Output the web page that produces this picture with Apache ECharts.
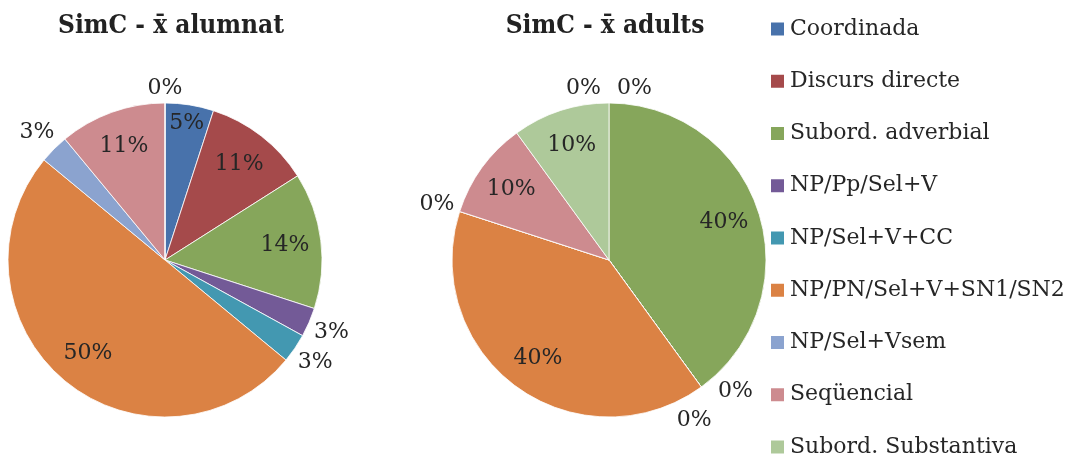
<!DOCTYPE html>
<html>
<head>
<meta charset="utf-8">
<script src="https://cdn.jsdelivr.net/npm/echarts@6/dist/echarts.min.js"></script>
<style>
  html, body { margin: 0; padding: 0; background: #fff; }
  #chart { width: 1067px; height: 455px; }
</style>
</head>
<body>
<div id="chart"></div>
<script>
// Sentence-construction categories (shared by both pies and the legend)
const categories = [
  'Coordinada',
  'Discurs directe',
  'Subord. adverbial',
  'NP/Pp/Sel+V',
  'NP/Sel+V+CC',
  'NP/PN/Sel+V+SN1/SN2',
  'NP/Sel+Vsem',
  'Seqüencial',
  'Subord. Substantiva'
];

// Mean share (%) per category
const alumnatPct = [5, 11, 14, 3, 3, 50, 3, 11, 0];
const adultsPct  = [0, 0, 40, 0, 0, 40, 0, 10, 10];

const titles = ['SimC - x\u0304 alumnat', 'SimC - x\u0304 adults'];

const palette = [
  '#4872AB', '#A54A4B', '#86A65B', '#735A97', '#4398B1',
  '#DB8244', '#8BA3CF', '#CD8B8F', '#AEC99A'
];

const FONT = 'DejaVu Serif';
const TITLE_FONT = '"DejaVu Serif Condensed", "DejaVu Serif"';
const TEXT = '#262626';

const pies = [
  { values: alumnatPct, center: [165, 260], r: 157, titleX: 166 },
  { values: adultsPct,  center: [609, 260], r: 157, titleX: 600 }
];

// Mid angle (clockwise from 12 o'clock) and share of every slice
function sliceGeometry(values) {
  const total = values.reduce((a, b) => a + b, 0);
  let cum = 0;
  return values.map(v => {
    const a0 = cum / total * 2 * Math.PI;
    cum += v;
    const a1 = cum / total * 2 * Math.PI;
    return { mid: (a0 + a1) / 2, share: v / total };
  });
}

// Best-fit style placement: big slices get their label inside,
// thin ones outside; labels landing on the same angle are spread sideways.
function placeLabel(pie, geo, i, rect) {
  const [cx, cy] = pie.center;
  const r = pie.r;
  const g = geo[i];
  const sx = Math.sin(g.mid), sy = -Math.cos(g.mid);
  const isOutside = s => s.share < 0.04;
  let x, y;
  if (!isOutside(g)) {
    const f = g.share < 0.08 ? 0.88 : 0.77;
    x = cx + sx * r * f;
    y = cy + sy * r * f;
  } else {
    const d = r + 4 + Math.abs(sx) * rect.width / 2 + Math.abs(sy) * rect.height / 2;
    const group = [];
    geo.forEach((o, j) => {
      if (isOutside(o) && Math.abs(o.mid - g.mid) < 1e-6) group.push(j);
    });
    const k = group.indexOf(i), n = group.length;
    const t = (k - (n - 1) / 2) * (rect.width + 16);
    x = cx + sx * d + Math.cos(g.mid) * t;
    y = cy + sy * d + Math.sin(g.mid) * t;
  }
  return { x: x, y: y, align: 'center', verticalAlign: 'middle' };
}

const chart = echarts.init(document.getElementById('chart'), null, { renderer: 'canvas' });

const series = pies.map(pie => {
  const geo = sliceGeometry(pie.values);
  return {
    type: 'pie',
    center: pie.center,
    radius: pie.r,
    startAngle: 90,
    clockwise: true,
    avoidLabelOverlap: false,
    animation: false,
    data: categories.map((name, i) => ({ name: name, value: pie.values[i] })),
    itemStyle: { borderColor: '#ffffff', borderWidth: 0.8 },
    label: {
      show: true,
      position: 'outside',
      formatter: p => p.value + '%',
      fontFamily: FONT,
      fontSize: 22,
      color: TEXT
    },
    labelLine: { show: false },
    labelLayout: p => placeLabel(pie, geo, p.dataIndex, p.labelRect),
    emphasis: { disabled: true }
  };
});

chart.setOption({
  color: palette,
  animation: false,
  title: pies.map((pie, i) => ({
    text: titles[i],
    left: pie.titleX,
    top: 8,
    textAlign: 'center',
    textStyle: { fontFamily: TITLE_FONT, fontWeight: 'bold', fontSize: 26, color: '#222222' }
  })),
  legend: {
    orient: 'vertical',
    left: 764,
    top: 11,
    height: 560,
    icon: 'rect',
    itemWidth: 15,
    itemHeight: 15,
    itemGap: 26.25,
    selectedMode: false,
    data: categories,
    textStyle: { fontFamily: FONT, fontSize: 22, color: TEXT, lineHeight: 26 }
  },
  series: series
});
</script>
</body>
</html>
